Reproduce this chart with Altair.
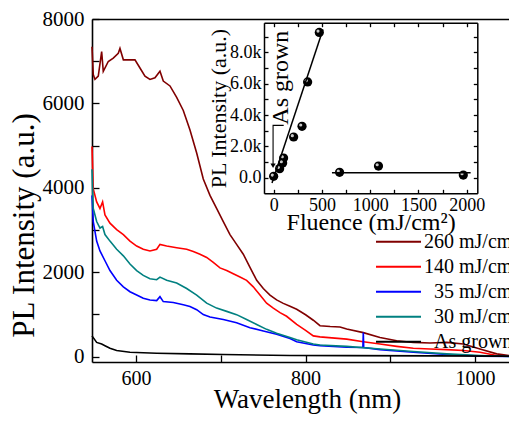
import altair as alt
import pandas as pd

FONT = "Liberation Serif, Times New Roman, Tinos, DejaVu Serif, serif"

# ---------------- main spectra ----------------
series_labels = ["260 mJ/cm²", "140 mJ/cm²", "\u2060\u200735 mJ/cm²", "\u2060\u200730 mJ/cm²",
                 "\u2060\u2007As grown"]
series_colors = ["#800000", "#ff0000", "#0000ff", "#008080", "#000000"]

wl_260 = [548, 549.5, 551.5, 555.4, 559.4, 561.3, 567.2, 573.1, 579, 581, 585, 592.8, 598.7, 604.6,
          610.5, 616.4, 622.3, 628.2, 632.1, 640, 647.9, 655.7, 663.6, 671.5, 679.3, 687.2, 695,
          702.9, 710.8, 718.6, 726.5, 734.4, 742.3, 750.1, 758, 765.8, 773.7, 781.6, 789.5, 800,
          809.1, 817, 829, 840.6, 848.5, 868.1, 887.8, 907.5, 927.1, 946.8, 966.5, 986.1, 1005.8,
          1025.5, 1040]
pl_260 = [7342, 6684, 6568, 6645, 7226, 6761, 6993, 7071, 7187, 7303, 7032, 7032, 7032, 6838,
          6645, 6568, 6606, 6761, 6529, 6413, 6142, 5832, 5367, 4825, 4206, 3819, 3509,
          3199, 2890, 2657, 2425, 2115, 1806, 1612, 1457, 1341, 1260, 1190, 1120, 990,
          860, 730, 710, 700, 650, 566, 450, 373, 334, 319, 334, 296, 179,
          63, 25]

wl_140 = [548, 549.5, 553.5, 557.4, 560.5, 563.3, 569.2, 577.1, 585, 592.8, 600.7, 608.5, 616.4,
          624.3, 628.2, 636.1, 647.9, 659.7, 667.5, 675.4, 683.3, 691.1, 699, 706.9, 714.7, 722.6,
          730.4, 738.3, 746.2, 754, 761.9, 769.8, 777.6, 789.5, 800, 809.1, 817, 848.5, 868.1,
          887.8, 907.5, 927.1, 946.8, 966.5, 986.1, 1005.8, 1025.5, 1040]
pl_140 = [4980, 3974, 3664, 3509, 3664, 3354, 3161, 3006, 2890, 2735, 2619, 2541, 2503,
          2541, 2657, 2619, 2580, 2541, 2487, 2425, 2348, 2232, 2100, 2038, 1960, 1883,
          1806, 1651, 1457, 1264, 1147, 1040, 954, 760, 620, 489, 466, 412, 350,
          296, 241, 195, 179, 164, 141, 102, 24, 5]

wl_35 = [548, 549.5, 553.5, 557.4, 563.3, 569.2, 577.1, 585, 592.8, 600.7, 608.5, 616.4, 624.3,
         628.2, 632.1, 643.9, 655.7, 663.6, 671.5, 679.3, 687.2, 702.9, 718.6, 734.4, 750.1,
         765.8, 781.6, 789.5, 809.1, 817, 848.5, 867.6, 868.1, 868.6, 887.8, 927.1, 966.5,
         1005.8, 1040]
pl_35 = [3819, 3199, 2735, 2503, 2270, 2038, 1806, 1651, 1535, 1457, 1380, 1341, 1325,
         1418, 1302, 1279, 1225, 1186, 1109, 993, 938, 877, 799, 683, 606,
         528, 427, 350, 272, 257, 218, 215, 566, 212, 164, 102, 48,
         9, 0]

wl_30 = [548, 549.5, 553.5, 557.4, 560.5, 563.3, 569.2, 577.1, 585, 592.8, 600.7, 608.5, 616.4,
         624.3, 628.2, 636.1, 647.9, 659.7, 671.5, 683.3, 695, 706.9, 718.6, 730.4, 742.3, 754,
         765.8, 781.6, 789.5, 809.1, 817, 848.5, 887.8, 927.1, 966.5, 1005.8, 1040]
pl_30 = [4438, 3509, 3199, 3045, 3083, 2890, 2735, 2541, 2386, 2193, 2038, 1922, 1844,
         1821, 1883, 1806, 1744, 1612, 1457, 1264, 1147, 1070, 993, 877, 760, 644,
         551, 451, 396, 296, 272, 241, 179, 118, 63, 24, 2]

wl_grown = [548, 553.5, 559.4, 563.3, 569.2, 577.1, 592.8, 624.3, 663.6, 702.9, 781.6, 850, 950, 1040]
pl_grown = [489, 334, 296, 257, 195, 141, 102, 79, 63, 48, 25, 20, 15, 10]

main_x_ticks_major = [600, 800, 1000]
main_x_ticks_all = [600, 700, 800, 900, 1000]
main_y_ticks_major = [0, 2000, 4000, 6000, 8000]
main_y_ticks_all = [0, 1000, 2000, 3000, 4000, 5000, 6000, 7000, 8000]

# ---------------- inset ----------------
inset_fluence = [0, 62, 93, 103, 207, 294, 352, 473, 683, 1086, 1965]
inset_pl = [83, 576, 934, 1254, 2598, 3283, 6118, 9280, 339, 742, 166]
fit1_fluence = [-17, 511]
fit1_pl = [-346, 9472]
fit2_fluence = [604, 2041]
fit2_pl = [320, 320]
arrow_fluence = [104, -6, -6]
arrow_pl = [3340, 3340, 800]
arrowhead_fluence = [-6]
arrowhead_pl = [760]
note_fluence = [72]
note_pl = [6387]
note_text = ["As grown"]
inset_x_labels = [0, 500, 1000, 1500, 2000]
inset_x_ticks = [0, 250, 500, 750, 1000, 1250, 1500, 1750, 2000]
inset_y_labels = [0, 2000, 4000, 6000, 8000]
inset_y_ticks = [0, 1000, 2000, 3000, 4000, 5000, 6000, 7000, 8000, 9000]

W, H = 417, 343
IN_L, IN_R, IN_T, IN_B = 172, 385.3, 3.7, 174.3   # inset frame inside the plot area (px)

rows = []
for lab, ws, vs in zip(series_labels,
                       [wl_260, wl_140, wl_35, wl_30, wl_grown],
                       [pl_260, pl_140, pl_35, pl_30, pl_grown]):
    for w, v in zip(ws, vs):
        rows.append({"wl": w, "I": v, "series": lab})
spec = pd.DataFrame(rows)

MX = alt.Scale(domain=[548, 1040], nice=False, zero=False)
MY = alt.Scale(domain=[-130, 8000], nice=False, zero=False)
IX = alt.Scale(domain=[-100, 2110], range=[IN_L, IN_R], nice=False, zero=False)
IY = alt.Scale(domain=[-1000, 9900], range=[IN_B, IN_T], nice=False, zero=False)

common = dict(labelFont=FONT, titleFont=FONT, labelColor="black", titleColor="black",
              domainColor="black", tickColor="black", grid=False, labelFlush=False,
              labelOverlap=False, titleFontWeight="normal", labelFontWeight="normal",
              format="d")


def ax(**kw):
    d = dict(common)
    d.update(kw)
    return alt.Axis(**d)


def tick_axis(orient, values, offset, size):
    return ax(orient=orient, values=values, offset=offset, labels=False, domain=False,
              ticks=True, tickSize=size, tickWidth=1.3, title=None)


def frame_axis(orient, values, offset, size):
    return ax(orient=orient, values=values, offset=offset, labels=False, domain=True,
              domainWidth=1.5, ticks=True, tickSize=size, tickWidth=1.3, title=None)


lines = alt.Chart(spec).mark_line(strokeWidth=1.6).encode(
    x=alt.X("wl:Q", scale=MX, axis=ax(
        orient="bottom", values=main_x_ticks_major, ticks=False, domainWidth=1.6,
        labelFontSize=20, labelPadding=6, title="Wavelength (nm)", titleFontSize=27,
        titlePadding=-2, titleX=215)),
    y=alt.Y("I:Q", scale=MY, axis=ax(
        orient="left", values=main_y_ticks_major, ticks=False, domainWidth=1.6,
        labelFontSize=21, labelPadding=8, title="PL Intensity (a.u.)", titleFontSize=31,
        titlePadding=2, titleY=206)),
    color=alt.Color("series:N", scale=alt.Scale(domain=series_labels, range=series_colors),
                    legend=alt.Legend(orient="none", legendX=283, legendY=210.6, title=None,
                                      symbolType="stroke", symbolSize=2025,
                                      symbolStrokeWidth=2, clipHeight=24.2,
                                      labelFont=FONT, labelFontSize=20, labelColor="black",
                                      labelOffset=2, padding=0, rowPadding=0, labelLimit=0)),
)

dummy = pd.DataFrame({"wl": [600], "I": [0]})

main_ticks = alt.Chart(dummy).mark_point(opacity=0).encode(
    x=alt.X("wl:Q", scale=MX, axis=tick_axis("top", main_x_ticks_all, -H, 7)),
    y=alt.Y("I:Q", scale=MY, axis=tick_axis("right", main_y_ticks_all, -W, 7)),
)

main_top = alt.Chart(dummy).mark_point(opacity=0).encode(
    x=alt.X("wl:Q", scale=MX, axis=ax(orient="top", labels=False, ticks=False, domain=True,
                                       domainWidth=1.6, title=None)),
    y=alt.Y("I:Q", scale=MY, axis=None),
)

pts = pd.DataFrame({"f": inset_fluence, "p": inset_pl})
inset_points = alt.Chart(pts).mark_point(filled=True, size=85, color="black", opacity=1).encode(
    x=alt.X("f:Q", scale=IX, axis=ax(
        orient="bottom", offset=-(H - IN_B), values=inset_x_labels, ticks=False,
        domainWidth=1.5, labelFontSize=18, labelPadding=3, title="Fluence (mJ/cm²)",
        titleFontSize=24, titlePadding=-4)),
    y=alt.Y("p:Q", scale=IY, axis=ax(
        orient="left", offset=-IN_L, values=inset_y_labels, ticks=False, domainWidth=1.5,
        labelFontSize=18, labelPadding=3, title="PL Intensity (a.u.)", titleFontSize=22,
        titlePadding=-1,
        labelExpr="datum.value == 0 ? '0.0' : format(datum.value / 1000, '.1f') + 'k'")),
)

inset_hl = alt.Chart(pts).mark_point(filled=True, size=10, color="#c8c8c8", opacity=1,
                                     xOffset=-1.3, yOffset=-1.3).encode(
    x=alt.X("f:Q", scale=IX, axis=None),
    y=alt.Y("p:Q", scale=IY, axis=None),
)

fit1 = alt.Chart(pd.DataFrame({"f": fit1_fluence, "p": fit1_pl})).mark_line(
    color="black", strokeWidth=1.5).encode(
    x=alt.X("f:Q", scale=IX, axis=tick_axis("top", inset_x_ticks, -IN_B, 4)),
    y=alt.Y("p:Q", scale=IY, axis=tick_axis("right", inset_y_ticks, -(W - IN_L), 4)),
)

fit2 = alt.Chart(pd.DataFrame({"f": fit2_fluence, "p": fit2_pl})).mark_line(
    color="black", strokeWidth=1.5).encode(
    x=alt.X("f:Q", scale=IX, axis=frame_axis("bottom", inset_x_ticks, -(H - IN_T), 4)),
    y=alt.Y("p:Q", scale=IY, axis=frame_axis("left", inset_y_ticks, -IN_R, 4)),
)

arrow_df = pd.DataFrame({"f": arrow_fluence, "p": arrow_pl, "o": [0, 1, 2]})
arrow = alt.Chart(arrow_df).mark_line(color="black", strokeWidth=1.1).encode(
    x=alt.X("f:Q", scale=IX, axis=None),
    y=alt.Y("p:Q", scale=IY, axis=None),
    order="o:O",
)

head = alt.Chart(pd.DataFrame({"f": arrowhead_fluence, "p": arrowhead_pl})).mark_point(
    shape="triangle-down", filled=True, size=28, color="black", opacity=1).encode(
    x=alt.X("f:Q", scale=IX, axis=None),
    y=alt.Y("p:Q", scale=IY, axis=None),
)

note = alt.Chart(pd.DataFrame({"f": note_fluence, "p": note_pl, "t": note_text})).mark_text(
    font=FONT, fontSize=24, angle=270, align="center", baseline="middle", color="black").encode(
    x=alt.X("f:Q", scale=IX, axis=None),
    y=alt.Y("p:Q", scale=IY, axis=None),
    text="t:N",
)

chart = alt.layer(
    lines, main_ticks, main_top, inset_points, inset_hl, fit1, fit2, arrow, head, note
).resolve_scale(x="independent", y="independent").properties(
    width=W, height=H,
    padding={"left": 84, "top": 11, "right": 0, "bottom": 53},
    autosize=alt.AutoSizeParams(type="none"),
).configure_view(stroke=None).configure(background="white")

chart.save("out.html", embed_options={"renderer": "svg", "actions": False})
